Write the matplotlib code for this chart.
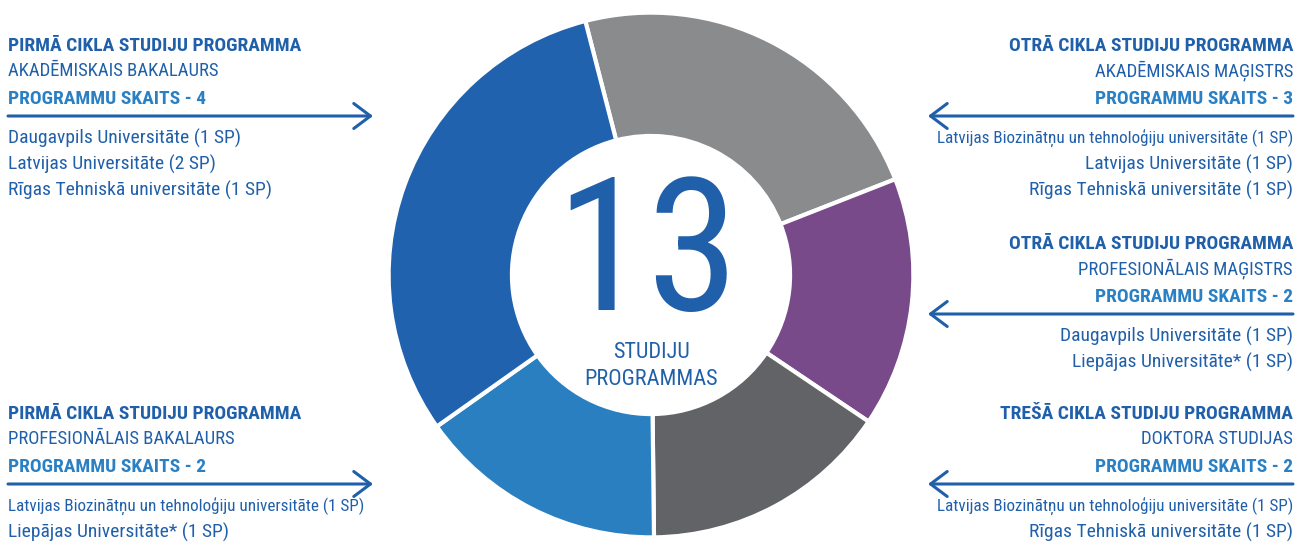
import matplotlib
matplotlib.use("Agg")
import matplotlib.pyplot as plt
from matplotlib import font_manager

# data
segment_names = ["Otrā cikla akad.", "Otrā cikla prof.", "Trešā cikla", "Pirmā cikla prof.", "Pirmā cikla akad."]
segment_counts = [3, 2, 2, 2, 4]
segment_colors = ["#8a8b8d", "#784a8a", "#626366", "#2a7fc0", "#2062ae"]
total_label = "13"
center_label = "STUDIJU\nPROGRAMMAS"

headers = [
    "PIRMĀ CIKLA STUDIJU PROGRAMMA",
    "PIRMĀ CIKLA STUDIJU PROGRAMMA",
    "OTRĀ CIKLA STUDIJU PROGRAMMA",
    "OTRĀ CIKLA STUDIJU PROGRAMMA",
    "TREŠĀ CIKLA STUDIJU PROGRAMMA",
]
subtitles = [
    "AKADĒMISKAIS BAKALAURS",
    "PROFESIONĀLAIS BAKALAURS",
    "AKADĒMISKAIS MAĢISTRS",
    "PROFESIONĀLAIS MAĢISTRS",
    "DOKTORA STUDIJAS",
]
counts = [4, 2, 3, 2, 2]
universities = [
    ["Daugavpils Universitāte (1 SP)", "Latvijas Universitāte (2 SP)", "Rīgas Tehniskā universitāte (1 SP)"],
    ["Latvijas Biozinātņu un tehnoloģiju universitāte (1 SP)", "Liepājas Universitāte* (1 SP)"],
    ["Latvijas Biozinātņu un tehnoloģiju universitāte (1 SP)", "Latvijas Universitāte (1 SP)", "Rīgas Tehniskā universitāte (1 SP)"],
    ["Daugavpils Universitāte (1 SP)", "Liepājas Universitāte* (1 SP)"],
    ["Latvijas Biozinātņu un tehnoloģiju universitāte (1 SP)", "Rīgas Tehniskā universitāte (1 SP)"],
]

# layout of the text blocks (pixel coords, y from top)
block_side = ["left", "left", "right", "right", "right"]
block_top = [46, 414, 46, 244, 414]

names = {f.name for f in font_manager.fontManager.ttflist}
narrow = "DejaVu Sans"
for cand in ["Roboto Condensed", "PT Sans Narrow", "Asap Condensed", "IBM Plex Sans Condensed"]:
    if cand in names:
        narrow = cand
        break
plt.rcParams["font.family"] = [narrow, "DejaVu Sans"]

dark = "#2060aa"
light = "#2a80c4"

W, H = 1306, 549
fig = plt.figure(figsize=(W / 100, H / 100), dpi=100)
ax = fig.add_axes([0, 0, 1, 1])
ax.set_xlim(0, W)
ax.set_ylim(H, 0)
ax.axis("off")

# donut
cx, cy, r = 651, 275, 265
pax = fig.add_axes([(cx - r) / W, (H - cy - r) / H, 2 * r / W, 2 * r / H])
pax.pie(segment_counts, colors=segment_colors, startangle=104.5, counterclock=False,
        wedgeprops=dict(width=0.47, edgecolor="white", linewidth=3))
pax.set_xlim(-1.01, 1.01)
pax.set_ylim(-1.01, 1.01)
pax.axis("off")

ax.text(cx - 4, 259, total_label, ha="center", va="center", fontsize=134, color=dark)
ax.text(cx, 366, center_label, ha="center", va="center", fontsize=16, color=dark,
        linespacing=1.4)

for i in range(5):
    y0 = block_top[i]
    if block_side[i] == "left":
        x, ha = 8, "left"
        arr = dict(xy=(373, y0 + 70), xytext=(8, y0 + 70))
    else:
        x, ha = 1293, "right"
        arr = dict(xy=(928, y0 + 70), xytext=(1293, y0 + 70))
    ax.text(x, y0, headers[i], ha=ha, va="center", fontsize=14, fontweight="bold", color=dark)
    ax.text(x, y0 + 25, subtitles[i], ha=ha, va="center", fontsize=13.5, color=dark)
    ax.text(x, y0 + 53, "PROGRAMMU SKAITS - %d" % counts[i], ha=ha, va="center",
            fontsize=14, fontweight="bold", color=light)
    ax.annotate("", **arr, arrowprops=dict(arrowstyle="->,head_length=0.6,head_width=0.45",
                                           lw=2.2, color=dark, shrinkA=0, shrinkB=0,
                                           mutation_scale=20))
    for j, u in enumerate(universities[i]):
        fs = 12.3 if len(u) > 40 else 14
        ax.text(x, y0 + 92 + j * 26, u, ha=ha, va="center", fontsize=fs, color=dark)

fig.savefig("out.png", dpi=100)
